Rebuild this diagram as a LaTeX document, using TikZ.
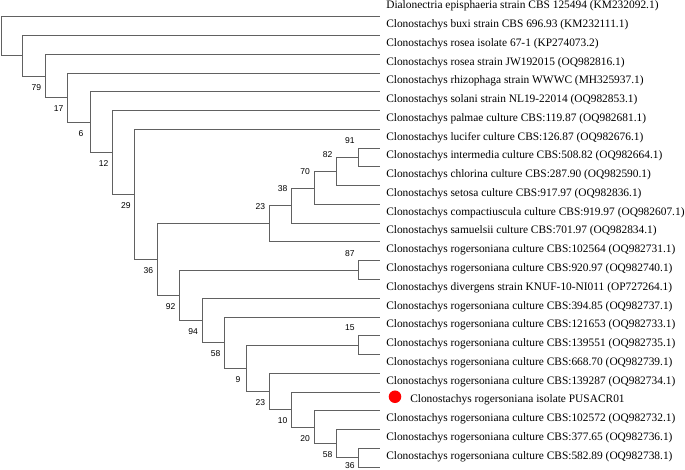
\documentclass[tikz,border=0pt]{standalone}
\usepackage{fontspec}
\setmainfont{Liberation Serif}
\newfontfamily\bsfont{Liberation Sans}
\usetikzlibrary{calc}
\begin{document}
\begin{tikzpicture}[x=0.75pt,y=-0.75pt,
  br/.style={draw=black!62, line width=0.75pt},
  leaf/.style={anchor=base west, inner sep=0pt, font=\fontsize{8.55}{10}\selectfont},
  bs/.style={inner sep=0pt, font=\bsfont\fontsize{6.4}{7}\selectfont},
  bsdn/.style={bs, xshift=-6.75pt, yshift=-8.25pt},
  bsup/.style={bs, xshift=-6.75pt, yshift=12.75pt},
  mark dot/.style={fill=red, draw=none}]
\useasboundingbox (0,0) rectangle (685,470);
% leaves
\foreach \i in {0,...,24} \coordinate (l\i) at (380,{17+18.75*\i});
% internal nodes
\coordinate (root) at (1,36.5);
\coordinate (nA) at (22.9,55.9);
\coordinate (nB) at (45.3,76.1);
\coordinate (nC) at (67.7,97.8);
\coordinate (nD) at (90.1,122.3);
\coordinate (nE) at (112.5,152.6);
\coordinate (nF) at (134.9,194.5);
\coordinate (nG) at (157.3,259.5);
\coordinate (nH) at (269.3,223.8);
\coordinate (nJ) at (291.7,205.7);
\coordinate (nK) at (314.1,188.1);
\coordinate (nL) at (336.5,171.7);
\coordinate (nM) at (358.9,157.6);
\coordinate (nI) at (179.7,295.3);
\coordinate (nN) at (358.9,270.1);
\coordinate (nO) at (202.1,320.4);
\coordinate (nP) at (224.5,342.6);
\coordinate (nQ) at (246.9,368.3);
\coordinate (nR) at (358.9,345.1);
\coordinate (nS) at (269.3,391.4);
\coordinate (nT) at (291.7,409.6);
\coordinate (nU) at (314.1,427.2);
\coordinate (nV) at (336.5,443.6);
\coordinate (nW) at (358.9,457.6);
% branches
\draw[br] (root) |- (l0);  \draw[br] (root) |- (nA);
\draw[br] (nA) |- (l1);    \draw[br] (nA) |- (nB);
\draw[br] (nB) |- (l2);    \draw[br] (nB) |- (nC);
\draw[br] (nC) |- (l3);    \draw[br] (nC) |- (nD);
\draw[br] (nD) |- (l4);    \draw[br] (nD) |- (nE);
\draw[br] (nE) |- (l5);    \draw[br] (nE) |- (nF);
\draw[br] (nF) |- (l6);    \draw[br] (nF) |- (nG);
\draw[br] (nG) |- (nH);    \draw[br] (nG) |- (nI);
\draw[br] (nH) |- (nJ);    \draw[br] (nH) |- (l12);
\draw[br] (nJ) |- (nK);    \draw[br] (nJ) |- (l11);
\draw[br] (nK) |- (nL);    \draw[br] (nK) |- (l10);
\draw[br] (nL) |- (nM);    \draw[br] (nL) |- (l9);
\draw[br] (nM) |- (l7);    \draw[br] (nM) |- (l8);
\draw[br] (nI) |- (nN);    \draw[br] (nI) |- (nO);
\draw[br] (nN) |- (l13);   \draw[br] (nN) |- (l14);
\draw[br] (nO) |- (l15);   \draw[br] (nO) |- (nP);
\draw[br] (nP) |- (l16);   \draw[br] (nP) |- (nQ);
\draw[br] (nQ) |- (nR);    \draw[br] (nQ) |- (nS);
\draw[br] (nR) |- (l17);   \draw[br] (nR) |- (l18);
\draw[br] (nS) |- (l19);   \draw[br] (nS) |- (nT);
\draw[br] (nT) |- (l20);   \draw[br] (nT) |- (nU);
\draw[br] (nU) |- (l21);   \draw[br] (nU) |- (nV);
\draw[br] (nV) |- (l22);   \draw[br] (nV) |- (nW);
\draw[br] (nW) |- (l23);   \draw[br] (nW) |- (l24);
% bootstrap values
\node[bsdn] (bB) at (nB) {79};
\node[bsdn] (bC) at (nC) {17};
\node[bsdn] (bD) at (nD) {6};
\node[bsdn] (bE) at (nE) {12};
\node[bsdn] (bF) at (nF) {29};
\node[bsdn] (bG) at (nG) {36};
\node[bsup] (bH) at (nH) {23};
\node[bsup] (bJ) at (nJ) {38};
\node[bsup] (bK) at (nK) {70};
\node[bsup] (bL) at (nL) {82};
\node[bsup] (bM) at (nM) {91};
\node[bsdn] (bI) at (nI) {92};
\node[bsup] (bN) at (nN) {87};
\node[bsdn] (bO) at (nO) {94};
\node[bsdn] (bP) at (nP) {58};
\node[bsdn] (bQ) at (nQ) {9};
\node[bsup] (bR) at (nR) {15};
\node[bsdn] (bS) at (nS) {23};
\node[bsdn] (bT) at (nT) {10};
\node[bsdn] (bU) at (nU) {20};
\node[bsdn] (bV) at (nV) {58};
\node[bsdn, yshift=2.4pt] (bW) at (nW) {36};
% leaf labels
\node[leaf] (t0) at ($(l0)+(6,-8)$) {Dialonectria episphaeria strain CBS 125494 (KM232092.1)};
\node[leaf] (t1) at ($(l1)+(6,-8)$) {Clonostachys buxi strain CBS 696.93 (KM232111.1)};
\node[leaf] (t2) at ($(l2)+(6,-8)$) {Clonostachys rosea isolate 67-1 (KP274073.2)};
\node[leaf] (t3) at ($(l3)+(6,-8)$) {Clonostachys rosea strain JW192015 (OQ982816.1)};
\node[leaf] (t4) at ($(l4)+(6,-8)$) {Clonostachys rhizophaga strain WWWC (MH325937.1)};
\node[leaf] (t5) at ($(l5)+(6,-8)$) {Clonostachys solani strain NL19-22014 (OQ982853.1)};
\node[leaf] (t6) at ($(l6)+(6,-8)$) {Clonostachys palmae culture CBS:119.87 (OQ982681.1)};
\node[leaf] (t7) at ($(l7)+(6,-8)$) {Clonostachys lucifer culture CBS:126.87 (OQ982676.1)};
\node[leaf] (t8) at ($(l8)+(6,-8)$) {Clonostachys intermedia culture CBS:508.82 (OQ982664.1)};
\node[leaf] (t9) at ($(l9)+(6,-8)$) {Clonostachys chlorina culture CBS:287.90 (OQ982590.1)};
\node[leaf] (t10) at ($(l10)+(6,-8)$) {Clonostachys setosa culture CBS:917.97 (OQ982836.1)};
\node[leaf] (t11) at ($(l11)+(6,-8)$) {Clonostachys compactiuscula culture CBS:919.97 (OQ982607.1)};
\node[leaf] (t12) at ($(l12)+(6,-8)$) {Clonostachys samuelsii culture CBS:701.97 (OQ982834.1)};
\node[leaf] (t13) at ($(l13)+(6,-8)$) {Clonostachys rogersoniana culture CBS:102564 (OQ982731.1)};
\node[leaf] (t14) at ($(l14)+(6,-8)$) {Clonostachys rogersoniana culture CBS:920.97 (OQ982740.1)};
\node[leaf] (t15) at ($(l15)+(6,-8)$) {Clonostachys divergens strain KNUF-10-NI011 (OP727264.1)};
\node[leaf] (t16) at ($(l16)+(6,-8)$) {Clonostachys rogersoniana culture CBS:394.85 (OQ982737.1)};
\node[leaf] (t17) at ($(l17)+(6,-8)$) {Clonostachys rogersoniana culture CBS:121653 (OQ982733.1)};
\node[leaf] (t18) at ($(l18)+(6,-8)$) {Clonostachys rogersoniana culture CBS:139551 (OQ982735.1)};
\node[leaf] (t19) at ($(l19)+(6,-8)$) {Clonostachys rogersoniana culture CBS:668.70 (OQ982739.1)};
\node[leaf] (t20) at ($(l20)+(6,-8)$) {Clonostachys rogersoniana culture CBS:139287 (OQ982734.1)};
\fill[mark dot] ($(l21)+(15,-14)$) circle[radius=4.7pt];
\node[leaf] (t21) at ($(l21)+(30,-8)$) {Clonostachys rogersoniana isolate PUSACR01};
\node[leaf] (t22) at ($(l22)+(6,-8)$) {Clonostachys rogersoniana culture CBS:102572 (OQ982732.1)};
\node[leaf] (t23) at ($(l23)+(6,-8)$) {Clonostachys rogersoniana culture CBS:377.65 (OQ982736.1)};
\node[leaf] (t24) at ($(l24)+(6,-8)$) {Clonostachys rogersoniana culture CBS:582.89 (OQ982738.1)};
\end{tikzpicture}
\end{document}
